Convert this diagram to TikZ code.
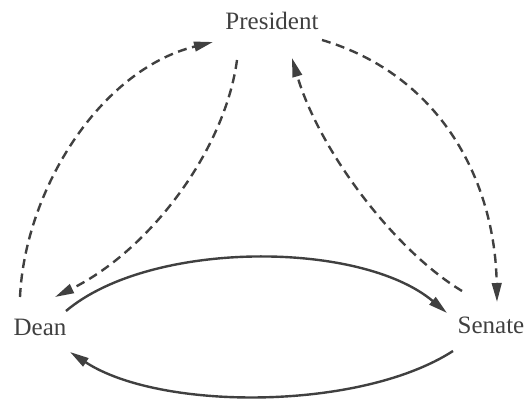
\documentclass[tikz,border=0pt]{standalone}
\usepackage{fontspec}
\setmainfont{Liberation Serif}
\usetikzlibrary{arrows.meta,calc}
\definecolor{ink}{HTML}{404040}
\tikzset{
  lbl/.style={font=\fontsize{12.5pt}{14pt}\selectfont, text=ink, inner sep=0pt},
  conn/.style={draw=ink, line width=1.2pt, -{Triangle[length=9.5pt,width=4.8pt]}},
  dsh/.style={conn, dash pattern=on 4.5pt off 2.8pt},
}
\begin{document}
\begin{tikzpicture}[x=0.5pt,y=-0.5pt]
\useasboundingbox (0,0) rectangle (524,399);
\node[lbl] (pres) at (272,21) {President};
\node[lbl] (dean) at (40,327) {Dean};
\node[lbl] (sen) at (491,325) {Senate};
% dashed outer left: Dean -> President
\draw[dsh] ($(dean)+(-20,-30)$) .. controls (25,190) and (100,70) .. ($(pres)+(-59,21)$);
% dashed inner left: President -> Dean
\draw[dsh] ($(pres)+(-35,39)$) .. controls (225,150) and (150,250) .. ($(dean)+(15,-30)$);
% dashed inner right: Senate -> President
\draw[dsh] ($(sen)+(-29,-34)$) .. controls (394,250) and (319,150) .. ($(pres)+(20,37)$);
% dashed outer right: President -> Senate
\draw[dsh] ($(pres)+(50,19)$) .. controls (440,75) and (495,180) .. ($(sen)+(6,-23)$);
% solid upper: Dean -> Senate
\draw[conn] ($(dean)+(26,-16)$) .. controls (150,240) and (360,240) .. ($(sen)+(-44,-12)$);
% solid lower: Senate -> Dean
\draw[conn] ($(sen)+(-38,26)$) .. controls (360,411) and (160,411) .. ($(dean)+(30,25)$);
\end{tikzpicture}
\end{document}
